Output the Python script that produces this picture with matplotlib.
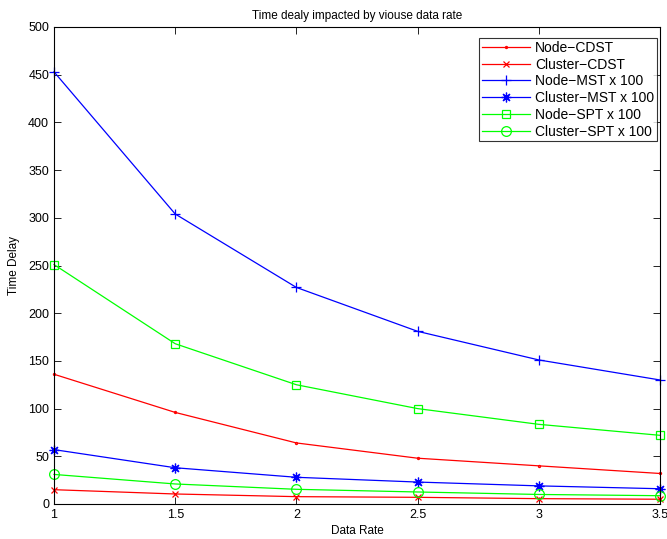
import matplotlib
matplotlib.use("Agg")
import matplotlib.pyplot as plt

plt.rcParams['font.family'] = ['Liberation Sans', 'DejaVu Sans']

data_rate = [1, 1.5, 2, 2.5, 3, 3.5]
node_cdst = [136, 96, 64, 48, 40, 32]
cluster_cdst = [15, 10.5, 7.7, 7, 5.6, 5]
node_mst = [453, 304, 227, 181, 151, 130]
cluster_mst = [57, 38, 28, 23, 19, 16]
node_spt = [251, 168, 125, 100, 83.5, 72]
cluster_spt = [31, 21, 15.4, 12.6, 10, 8.7]

# MATLAB-style asterisk: eight spokes
asterisk = (8, 2, 0)

series = [
    ("Node\u2212CDST", node_cdst, 'r', '.', 3),
    ("Cluster\u2212CDST", cluster_cdst, 'r', 'x', 5),
    ("Node\u2212MST x 100", node_mst, 'b', '+', 7),
    ("Cluster\u2212MST x 100", cluster_mst, 'b', asterisk, 7),
    ("Node\u2212SPT x 100", node_spt, '#00ff00', 's', 6),
    ("Cluster\u2212SPT x 100", cluster_spt, '#00ff00', 'o', 7),
]

fig = plt.figure(figsize=(6.67, 5.39), dpi=100)
ax = fig.add_axes([54 / 667, 1 - 504 / 539, 606 / 667, 477 / 539])

for label, vals, color, marker, ms in series:
    ax.plot(data_rate, vals, color=color, marker=marker, markersize=ms,
            markerfacecolor='none', markeredgecolor=color, linewidth=0.9,
            markeredgewidth=0.9, label=label, clip_on=False)

ax.set_xlim(1, 3.5)
ax.set_ylim(0, 500)
ax.set_xticks([1, 1.5, 2, 2.5, 3, 3.5])
ax.set_xticklabels(['1', '1.5', '2', '2.5', '3', '3.5'])
ax.set_yticks(range(0, 501, 50))
ax.tick_params(direction='in', top=True, right=True, labelsize=9, length=5, width=0.6)
for s in ax.spines.values():
    s.set_linewidth(0.8)

ax.set_title("Time dealy impacted by viouse data rate", fontsize=8.5, pad=6)
ax.set_xlabel("Data Rate", fontsize=8.5, labelpad=3)
ax.set_ylabel("Time Delay", fontsize=8.5, labelpad=6)

leg = ax.legend(loc='upper right', bbox_to_anchor=(603 / 606, 466 / 477), fontsize=10,
                frameon=True, fancybox=False, edgecolor='black', borderaxespad=0,
                handlelength=3.5, labelspacing=0.2, borderpad=0.2, handletextpad=0.35)
leg.get_frame().set_linewidth(0.8)

fig.savefig("out.png", dpi=100)
